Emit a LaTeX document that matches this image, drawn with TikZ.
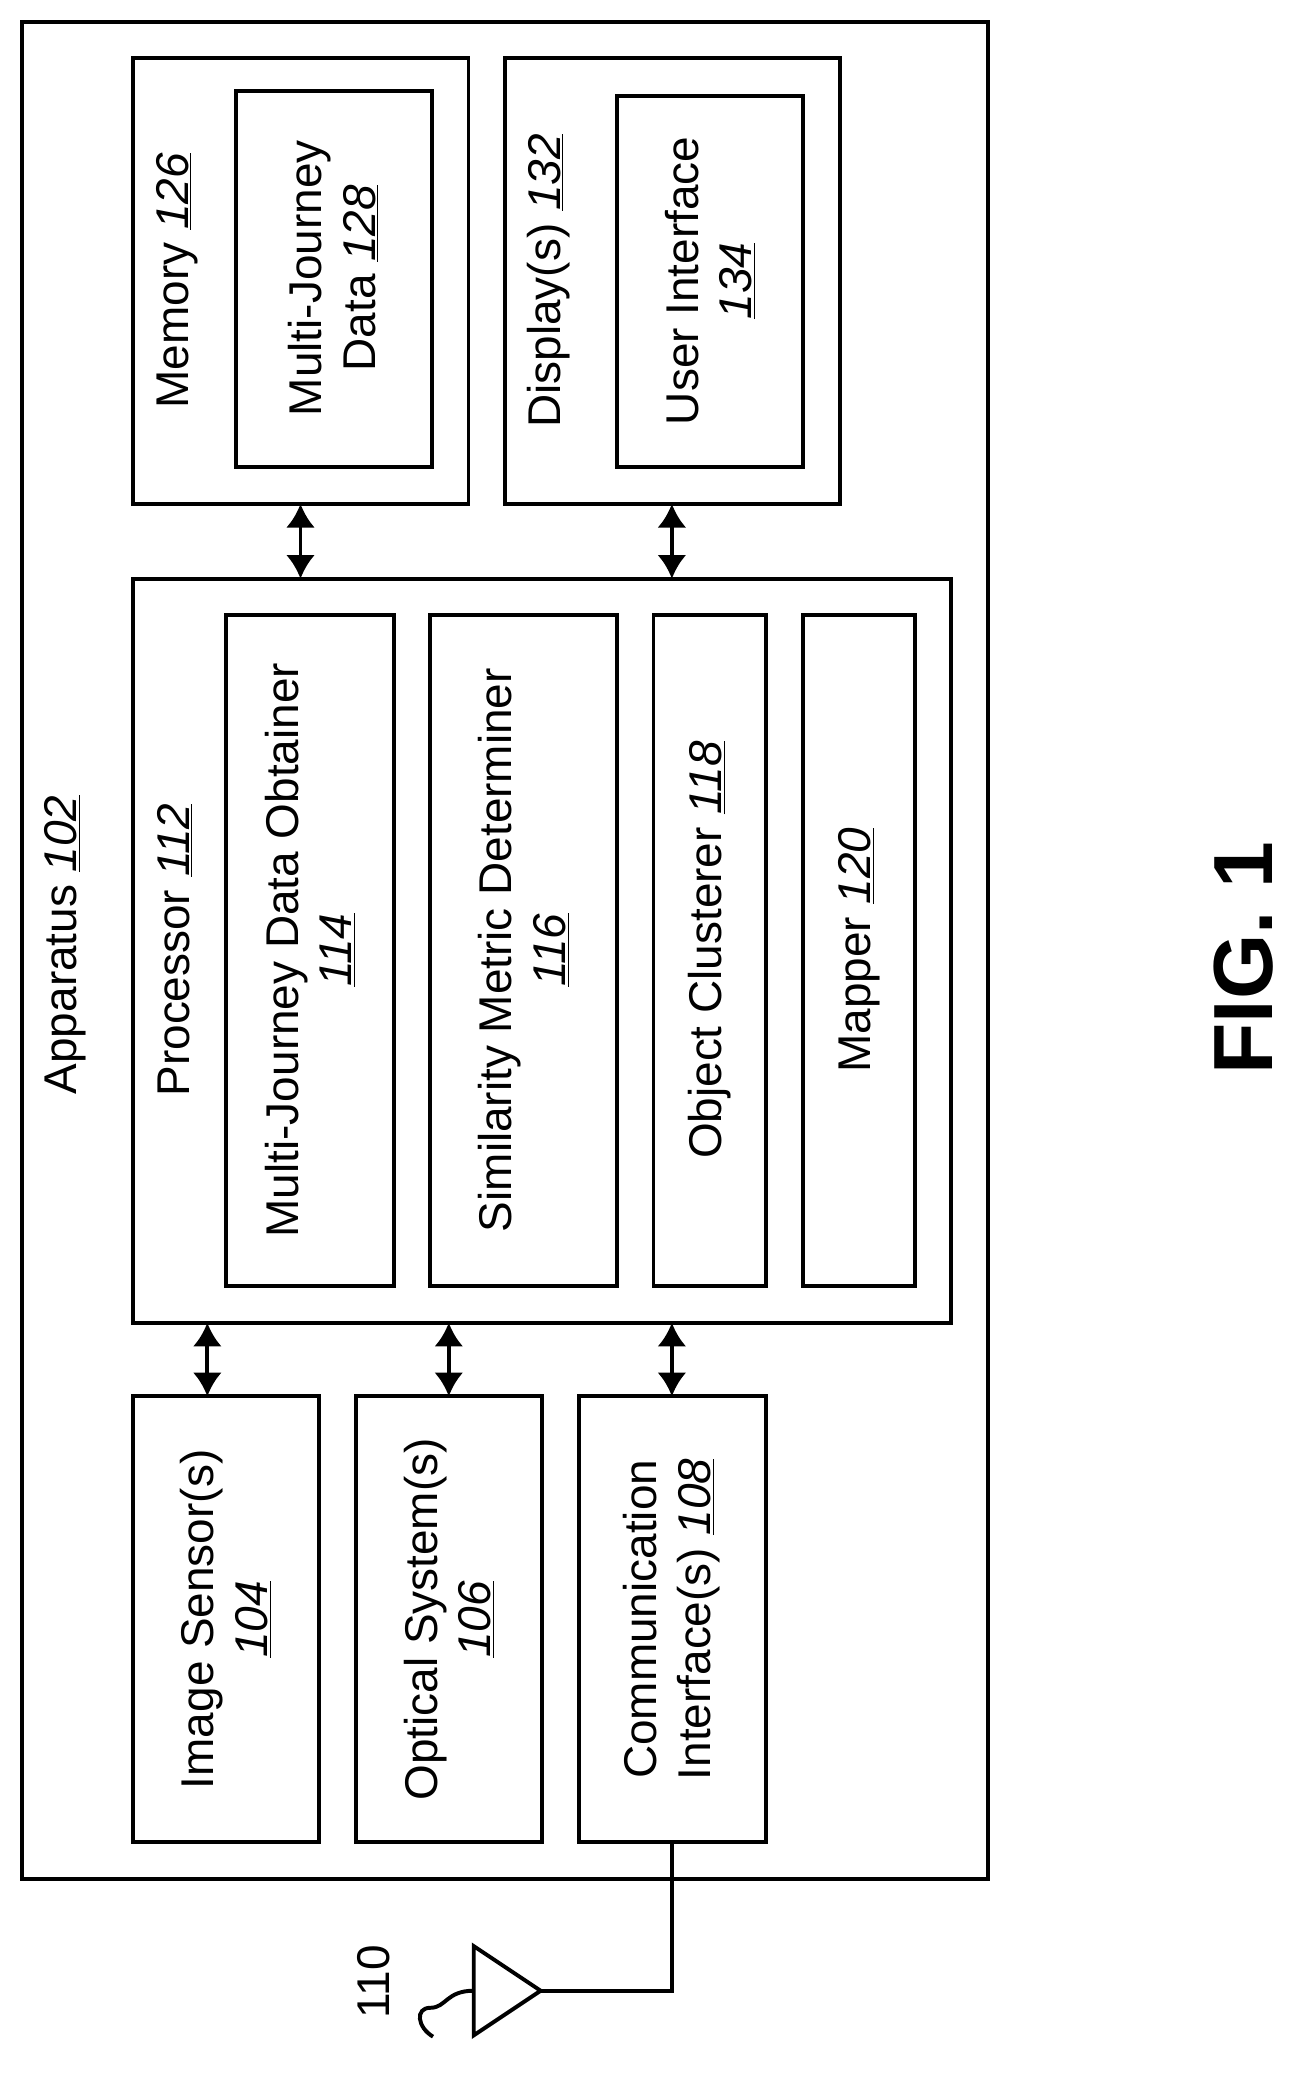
\documentclass[tikz,border=0pt]{standalone}
\usepackage{fontspec}
\setmainfont{Liberation Sans}
\usetikzlibrary{arrows.meta}
\newcommand{\rn}[1]{\underline{\textit{#1}}}
\begin{document}
\begin{tikzpicture}[x=1pt,y=-1pt,line width=3pt,
 box/.style={draw,line width=3pt},
 lbl/.style={rotate=90,font=\fontsize{35}{41}\selectfont,align=center,inner sep=0},
 dar/.style={{Latex[length=18pt,width=22pt]}-{Latex[length=18pt,width=22pt]},line width=3pt}]
\useasboundingbox (0,0) rectangle (1000,1582);
\draw[box] (17,17) rectangle (753,1432);
\node[lbl] (app) at (50,720) {Apparatus \rn{102}};
% memory
\draw[box] (101,44) rectangle (357,384);
\node[lbl] at (135,214) {Memory \rn{126}};
\draw[box] (180,69) rectangle (329,356);
\node[lbl] at (254,212) {Multi-Journey\\Data \rn{128}};
% display
\draw[box] (385,44) rectangle (640,384);
\node[lbl] at (418,214) {Display(s) \rn{132}};
\draw[box] (470,73) rectangle (612,356);
\node[lbl] at (541,214) {User Interface\\\rn{134}};
% processor
\draw[box] (101,441) rectangle (725,1008);
\node[lbl] at (133,724) {Processor \rn{112}};
\draw[box] (172,469) rectangle (300,980);
\node[lbl] at (236,724) {Multi-Journey Data Obtainer\\\rn{114}};
\draw[box] (328,469) rectangle (470,980);
\node[lbl] at (399,724) {Similarity Metric Determiner\\\rn{116}};
\draw[box] (498,469) rectangle (584,980);
\node[lbl] at (541,724) {Object Clusterer \rn{118}};
\draw[box] (612,469) rectangle (697,980);
\node[lbl] at (655,724) {Mapper \rn{120}};
% bottom boxes
\draw[box] (101,1064) rectangle (243,1404);
\node[lbl] at (172,1234) {Image Sensor(s)\\\rn{104}};
\draw[box] (271,1064) rectangle (413,1404);
\node[lbl] at (342,1234) {Optical System(s)\\\rn{106}};
\draw[box] (441,1064) rectangle (584,1404);
\node[lbl] at (512,1234) {Communication\\Interface(s) \rn{108}};
% arrows
\draw[dar] (229,384) -- (229,441);
\draw[dar] (512,384) -- (512,441);
\draw[dar] (158,1008) -- (158,1064);
\draw[dar] (342,1008) -- (342,1064);
\draw[dar] (512,1008) -- (512,1064);
% antenna
\draw (512,1404) -- (512,1517) -- (412,1517);
\draw[line join=miter] (412,1517) -- (361,1483) -- (361,1551) -- cycle;
\draw (361,1517) .. controls (340,1517) and (340,1530) .. (328,1530) .. controls (316,1530) and (318,1545) .. (330,1552);
\node[lbl] at (285,1510) {110};
\node[rotate=90,font=\fontsize{64}{72}\selectfont\bfseries,inner sep=0] at (948,730) {FIG. 1};
\end{tikzpicture}
\end{document}
